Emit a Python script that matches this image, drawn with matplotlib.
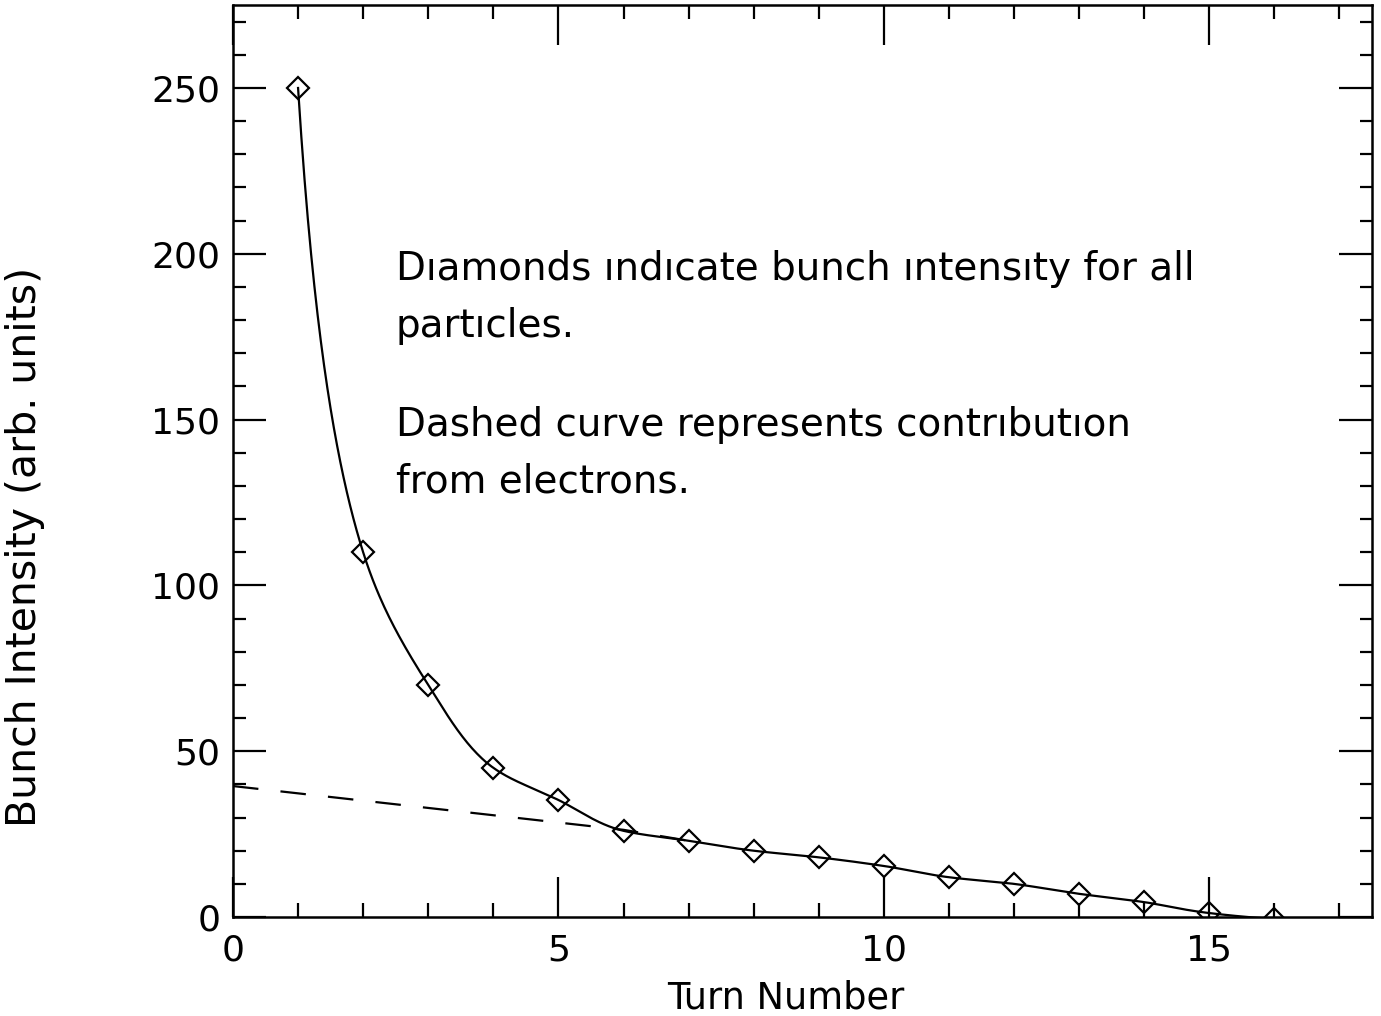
"""Bunch intensity versus turn number."""

import matplotlib
matplotlib.use("Agg")
import matplotlib.pyplot as plt
import numpy as np

# Data
turns = [1, 2, 3, 4, 5, 6, 7, 8, 9, 10, 11, 12, 13, 14, 15, 16]
intensity = [250, 110, 70, 45, 35.3, 26, 23, 20, 18, 15.4, 12, 10, 7, 4.5, 1.2, -0.6]

electron_turns = [0, 1, 2, 3, 4, 5, 6, 7]
electron_intensity = [39.5, 37.3, 35.1, 32.9, 30.7, 28.5, 26.3, 23]

note_all = "Dıamonds ındıcate bunch ıntensıty for all\npartıcles."
note_el = "Dashed curve represents contrıbutıon\nfrom electrons."


def _smooth(x, y, offset=5.0, n=40):
    """Monotone cubic through the points in 1/(y+offset) space (drawing only)."""
    x = np.asarray(x, float)
    u = 1.0 / (np.asarray(y, float) + offset)
    h = np.diff(x)
    d = np.diff(u) / h
    m = np.zeros_like(u)
    m[0], m[-1] = d[0], d[-1]
    for k in range(1, len(x) - 1):
        if d[k - 1] * d[k] <= 0:
            m[k] = 0
        else:
            w1 = 2 * h[k] + h[k - 1]
            w2 = h[k] + 2 * h[k - 1]
            m[k] = (w1 + w2) / (w1 / d[k - 1] + w2 / d[k])
    xs, us = [], []
    for k in range(len(x) - 1):
        t = np.linspace(0, 1, n, endpoint=False)
        h00 = 2 * t**3 - 3 * t**2 + 1
        h10 = t**3 - 2 * t**2 + t
        h01 = -2 * t**3 + 3 * t**2
        h11 = t**3 - t**2
        xs.append(x[k] + t * h[k])
        us.append(h00 * u[k] + h10 * h[k] * m[k] + h01 * u[k + 1] + h11 * h[k] * m[k + 1])
    xs.append([x[-1]])
    us.append([u[-1]])
    return np.concatenate(xs), 1.0 / np.concatenate(us) - offset


plt.rcParams["font.family"] = ["DejaVu Sans"]

fig = plt.figure(figsize=(13.81, 10.16), dpi=100)
ax = fig.add_axes([0.1687, 0.0974, 0.8248, 0.8976])

sx, sy = _smooth(turns, intensity)
ax.plot(sx, sy, color="black", linewidth=1.6)
ax.plot(turns, intensity, linestyle="none", marker="D", markersize=11,
        markerfacecolor="none", markeredgecolor="black", markeredgewidth=1.6)
ax.plot(electron_turns, electron_intensity, color="black", linewidth=1.6,
        dashes=(11.5, 10))

ax.set_xlim(0, 17.5)
ax.set_ylim(0, 275)
ax.set_xticks([0, 5, 10, 15])
ax.set_xticks(np.arange(0, 18, 1), minor=True)
ax.set_yticks([0, 50, 100, 150, 200, 250])
ax.set_yticks(np.arange(0, 280, 10), minor=True)

ax.tick_params(axis="both", which="both", direction="in", top=True, right=True,
               labelsize=26, width=1.6, colors="black")
ax.tick_params(axis="x", which="major", length=29, pad=12)
ax.tick_params(axis="x", which="minor", length=10)
ax.tick_params(axis="y", which="major", length=24, pad=9)
ax.tick_params(axis="y", which="minor", length=9)
for s in ax.spines.values():
    s.set_linewidth(1.8)

ax.set_xlabel("Turn Number", fontsize=26.5)
ax.xaxis.set_label_coords(0.485, -0.069)
ax.set_ylabel("Bunch Intensity (arb. units)", fontsize=29.5)
ax.yaxis.set_label_coords(-0.165, 0.406)

ax.text(2.5, 201, note_all, fontsize=28, va="top", ha="left", linespacing=1.62)
ax.text(2.5, 154, note_el, fontsize=28, va="top", ha="left", linespacing=1.62)

fig.savefig("out.png", dpi=100)
